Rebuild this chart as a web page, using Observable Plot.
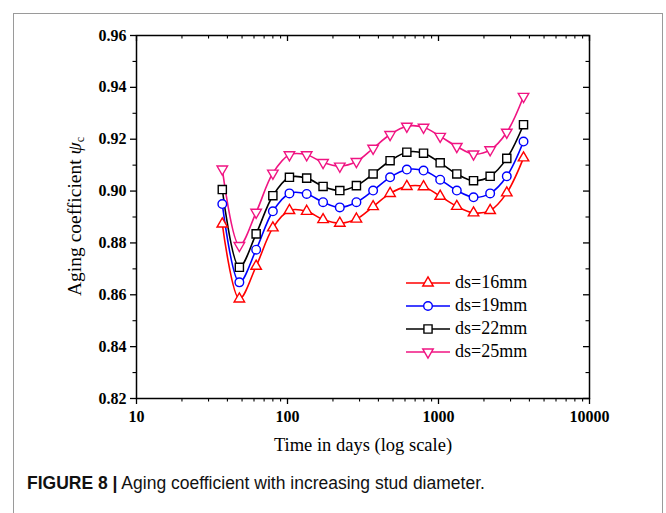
<!DOCTYPE html>
<html><head><meta charset="utf-8">
<script src="https://cdn.jsdelivr.net/npm/d3@7"></script>
<script src="https://cdn.jsdelivr.net/npm/@observablehq/plot@0.6"></script>
<style>
body{margin:0;background:#fff;}
#wrap{position:relative;width:666px;height:513px;overflow:hidden;background:#fff;}
#border{position:absolute;left:13px;top:13px;width:648px;height:540px;border:1.5px solid #9a9a9a;z-index:5;pointer-events:none;}
#chart{position:absolute;left:0;top:0;}
#caption{position:absolute;left:27px;top:473px;font-family:"Liberation Sans",Arial,sans-serif;font-size:17.5px;color:#111;white-space:nowrap;}
#legend{position:absolute;left:405px;top:271px;font-family:"Liberation Serif","Times New Roman",serif;font-size:18px;color:#000;}
.lrow{height:23px;display:flex;align-items:center;}
.lrow svg{margin-right:4px;}
</style></head><body>
<div id="wrap"><div id="border"></div><div id="chart"></div><div id="legend"></div>
<div id="caption"><b>FIGURE 8 |</b> Aging coefficient with increasing stud diameter.</div></div>
<script>
// ---- data ----
const days  = [37, 48, 62, 80, 103, 134, 172, 222, 286, 369, 478, 617, 796, 1026, 1322, 1706, 2198, 2833, 3656];
const ds16  = [0.8873, 0.8584, 0.8710, 0.8858, 0.8925, 0.8922, 0.8890, 0.8876, 0.8892, 0.8940, 0.8991, 0.9018, 0.9017, 0.8980, 0.8941, 0.8916, 0.8925, 0.8993, 0.9128];
const ds19  = [0.8950, 0.8648, 0.8774, 0.8922, 0.8991, 0.8989, 0.8957, 0.8937, 0.8957, 0.9002, 0.9053, 0.9083, 0.9079, 0.9044, 0.9002, 0.8976, 0.8991, 0.9057, 0.9191];
const ds22  = [0.9006, 0.8706, 0.8835, 0.8982, 0.9053, 0.9050, 0.9018, 0.9002, 0.9021, 0.9066, 0.9117, 0.9150, 0.9146, 0.9109, 0.9066, 0.9040, 0.9057, 0.9126, 0.9256];
const ds25  = [0.9085, 0.8790, 0.8918, 0.9069, 0.9140, 0.9140, 0.9110, 0.9096, 0.9114, 0.9165, 0.9218, 0.9250, 0.9246, 0.9211, 0.9172, 0.9143, 0.9159, 0.9227, 0.9365];
const seriesNames = ["ds=16mm", "ds=19mm", "ds=22mm", "ds=25mm"];
const seriesValues = [ds16, ds19, ds22, ds25];
const seriesColors = ["#ff0000", "#0000ff", "#000000", "#f01482"];
const xMajor = [10, 100, 1000, 10000];
const xMinor = [20,30,40,50,60,70,80,90,200,300,400,500,600,700,800,900,2000,3000,4000,5000,6000,7000,8000,9000];
const yMajor = [0.82, 0.84, 0.86, 0.88, 0.90, 0.92, 0.94, 0.96];
const yMinor = [0.83, 0.85, 0.87, 0.89, 0.91, 0.93, 0.95];
const xTitle = "Time in days (log scale)";

// ---- symbols ----
const triDown = {draw(ctx, size) {
  const y = Math.sqrt(size / (3 * Math.sqrt(3)));
  ctx.moveTo(0, 2 * y); ctx.lineTo(-Math.sqrt(3) * y, -y); ctx.lineTo(Math.sqrt(3) * y, -y); ctx.closePath();
}};
const seriesSymbols = [d3.symbolTriangle, d3.symbolCircle, d3.symbolSquare, triDown];
const seriesR = [3.9, 4.3, 4.6, 3.9];

const rows = [];
seriesNames.forEach((name, s) => days.forEach((t, i) => rows.push({series: name, s, t, v: seriesValues[s][i]})));

const W = 666, H = 468, mt = 35, mb = 70, ml = 136, mr = 77;
const pw = W - ml - mr, ph = H - mt - mb;
const serif = "'Liberation Serif','Times New Roman',serif";

const marks = [];
seriesNames.forEach((name, s) => {
  marks.push(Plot.line(rows.filter(r => r.s === s), {x: "t", y: "v", stroke: seriesColors[s], strokeWidth: 1.6, curve: "catmull-rom"}));
});
seriesNames.forEach((name, s) => {
  marks.push(Plot.dot(rows.filter(r => r.s === s), {x: "t", y: "v", stroke: seriesColors[s], fill: "white", strokeWidth: 1.4, symbol: seriesSymbols[s], r: seriesR[s]}));
});

const plot = Plot.plot({
  width: W, height: H,
  marginTop: mt, marginBottom: mb, marginLeft: ml, marginRight: mr,
  style: {fontFamily: serif, background: "transparent", color: "#000"},
  x: {type: "log", domain: [10, 10000]},
  y: {domain: [0.82, 0.96]},
  marks: [
    Plot.axisX({ticks: xMajor, tickSize: 6, tickPadding: 6, tickFormat: d => String(d), fontSize: 16, fontWeight: "bold", label: null, strokeWidth: 1.3}),
    Plot.axisX({ticks: xMinor, tickSize: 3.5, tickFormat: null, text: null, label: null, strokeWidth: 1.1}),
    Plot.axisY({ticks: yMajor, tickSize: 6, tickPadding: 4, tickFormat: d3.format(".2f"), fontSize: 16, fontWeight: "bold", label: null, strokeWidth: 1.3}),
    Plot.axisY({ticks: yMinor, tickSize: 3.5, text: null, label: null, strokeWidth: 1.1}),
    Plot.tickX(xMajor, {x: d => d, insetBottom: ph - 6, strokeWidth: 1.3}),
    Plot.tickX(xMinor, {x: d => d, insetBottom: ph - 3.5, strokeWidth: 1.1}),
    Plot.tickY(yMajor, {y: d => d, insetLeft: pw - 6, strokeWidth: 1.3}),
    Plot.tickY(yMinor, {y: d => d, insetLeft: pw - 3.5, strokeWidth: 1.1}),
    Plot.frame({stroke: "#000", strokeWidth: 1.5}),
    ...marks,
    Plot.text([xTitle], {text: d => d, frameAnchor: "bottom", dy: 52, fontSize: 18.5, fontFamily: serif})
  ]
});
document.getElementById("chart").appendChild(plot);

// y-axis title with italic psi and subscript c
const svg = d3.select(plot);
const yt = svg.append("text")
  .attr("transform", `translate(77,${mt + ph / 2}) rotate(-90)`)
  .attr("text-anchor", "middle")
  .attr("dominant-baseline", "middle")
  .attr("font-family", serif).attr("font-size", 19.5).attr("fill", "#000");
yt.append("tspan").text("Aging coefficient ");
yt.append("tspan").attr("font-style", "italic").text("ψ");
yt.append("tspan").attr("font-size", 12).attr("dy", 4).text("c");

// legend
const legend = d3.select("#legend");
seriesNames.forEach((name, s) => {
  const row = legend.append("div").attr("class", "lrow");
  const sv = row.append("svg").attr("width", 46).attr("height", 16);
  sv.append("line").attr("x1", 1).attr("x2", 45).attr("y1", 8).attr("y2", 8).attr("stroke", seriesColors[s]).attr("stroke-width", 1.6);
  sv.append("path").attr("transform", "translate(23,8)")
    .attr("d", d3.symbol(seriesSymbols[s], Math.PI * seriesR[s] * seriesR[s])())
    .attr("fill", "white").attr("stroke", seriesColors[s]).attr("stroke-width", 1.4);
  row.append("span").text(name);
});
</script>
</body></html>
